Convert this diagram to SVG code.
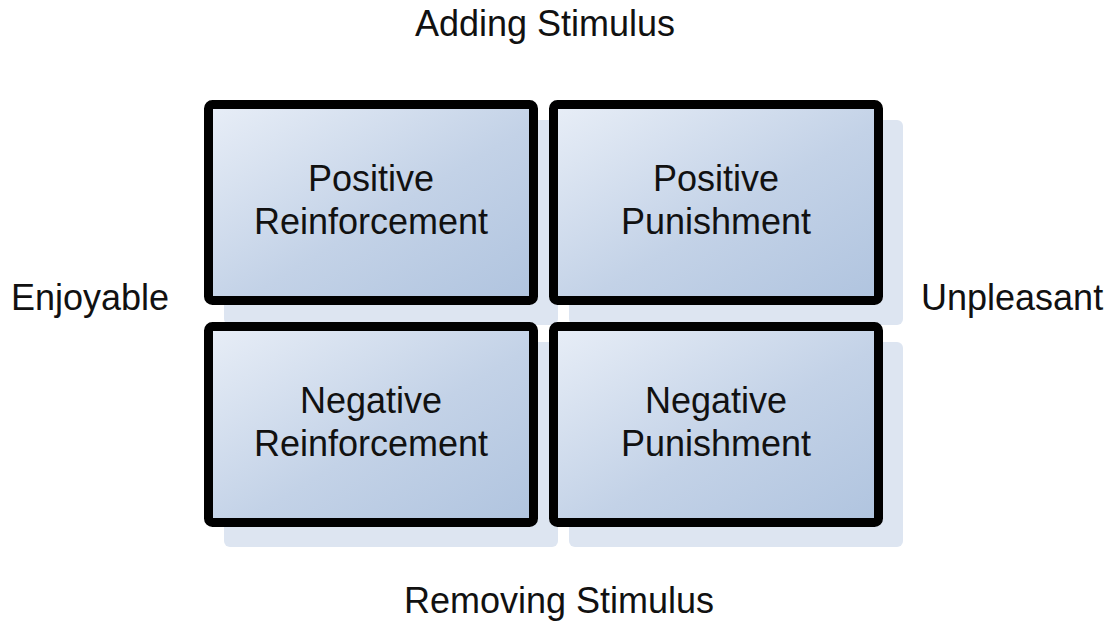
<svg xmlns="http://www.w3.org/2000/svg" width="1114" height="621" viewBox="0 0 1114 621">
<defs>
<linearGradient id="fillGrad" x1="0" y1="0" x2="1" y2="1">
<stop offset="0" stop-color="#e8eef7"/>
<stop offset="0.55" stop-color="#c3d2e7"/>
<stop offset="1" stop-color="#b0c4df"/>
</linearGradient>
<style>
.shadow{fill:#dde5f1}
.box{fill:url(#fillGrad);stroke:#000;stroke-width:9}
text{font-family:"Liberation Sans",Arial,sans-serif;font-size:36px;fill:#111}
.c{text-anchor:middle}
</style>
</defs>
<rect width="1114" height="621" fill="#fff"/>
<g id="shadows">
<rect class="shadow" x="224" y="120" width="334" height="205" rx="6"/>
<rect class="shadow" x="569" y="120" width="334" height="205" rx="6"/>
<rect class="shadow" x="224" y="342" width="334" height="205" rx="6"/>
<rect class="shadow" x="569" y="342" width="334" height="205" rx="6"/>
</g>
<g id="positive-reinforcement">
<rect class="box" x="208.5" y="104.5" width="325" height="196" rx="4"/>
<text class="c" x="371" y="191">Positive</text>
<text class="c" x="371" y="234">Reinforcement</text>
</g>
<g id="positive-punishment">
<rect class="box" x="553.5" y="104.5" width="325" height="196" rx="4"/>
<text class="c" x="716" y="191">Positive</text>
<text class="c" x="716" y="234">Punishment</text>
</g>
<g id="negative-reinforcement">
<rect class="box" x="208.5" y="326.5" width="325" height="196" rx="4"/>
<text class="c" x="371" y="413">Negative</text>
<text class="c" x="371" y="456">Reinforcement</text>
</g>
<g id="negative-punishment">
<rect class="box" x="553.5" y="326.5" width="325" height="196" rx="4"/>
<text class="c" x="716" y="413">Negative</text>
<text class="c" x="716" y="456">Punishment</text>
</g>
<g id="labels">
<text class="c" x="545" y="36">Adding Stimulus</text>
<text x="11" y="310">Enjoyable</text>
<text x="921" y="310">Unpleasant</text>
<text class="c" x="559" y="613">Removing Stimulus</text>
</g>
<g id="connectors"/>
</svg>
